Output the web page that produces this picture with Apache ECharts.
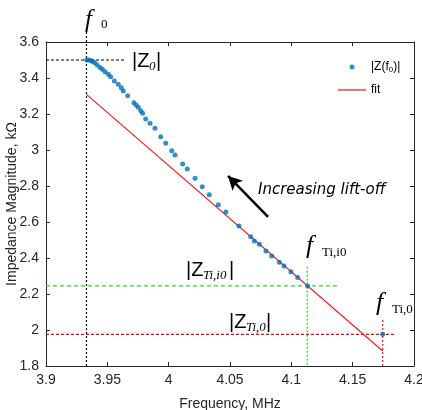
<!DOCTYPE html>
<html>
<head>
<meta charset="utf-8">
<script src="https://cdn.jsdelivr.net/npm/echarts@6/dist/echarts.min.js"></script>
<style>
  html, body { margin: 0; padding: 0; background: #fff; }
  #chart { width: 422px; height: 410px; }
</style>
</head>
<body>
<div id="chart"></div>
<script>
// |Z(f0)| measured points, frequency in MHz, magnitude in kOhm
const freq = [3.9332, 3.9351, 3.9367, 3.9381, 3.9397, 3.9418, 3.9440, 3.9459, 3.9481, 3.9508,
  3.9527, 3.9557, 3.9589, 3.9614, 3.9630, 3.9666, 3.9717, 3.9734, 3.9752, 3.9772,
  3.9788, 3.9813, 3.9848, 3.9889, 3.9935, 3.9976, 4.0025, 4.0052, 4.0114, 4.0152,
  4.0215, 4.0274, 4.0331, 4.0405, 4.0467, 4.0573, 4.0669, 4.0698, 4.0739, 4.0793,
  4.0840, 4.0902, 4.0940, 4.0997, 4.1052, 4.1133, 4.1745];
const mag = [3.500, 3.500, 3.496, 3.491, 3.485, 3.472, 3.459, 3.448, 3.435, 3.421,
  3.407, 3.383, 3.365, 3.346, 3.328, 3.302, 3.263, 3.250, 3.237, 3.218,
  3.204, 3.172, 3.148, 3.121, 3.074, 3.037, 2.996, 2.972, 2.922, 2.894,
  2.843, 2.796, 2.752, 2.696, 2.656, 2.578, 2.518, 2.494, 2.476, 2.439,
  2.411, 2.376, 2.356, 2.324, 2.291, 2.244, 1.976];

// linear fit
const fitFreq = [3.933, 4.1745];
const fitMag = [3.309, 1.883];

// guide lines: [x0, y0, x1, y1]
const guideZ0 = [3.9, 3.5, 3.964, 3.5];
const guideF0 = [3.933, 3.678, 3.933, 1.8];
const guideZTiI0 = [3.9, 2.245, 4.138, 2.245];
const guideFTiI0 = [4.113, 2.352, 4.113, 1.8];
const guideZTi0 = [3.9, 1.976, 4.1845, 1.976];
const guideFTi0 = [4.1745, 2.056, 4.1745, 1.8];

// lift-off arrow: tail then head
const arrowFreq = [4.081, 4.0484];
const arrowMag = [2.628, 2.856];

const xTickLabels = ['3.9', '3.95', '4', '4.05', '4.1', '4.15', '4.2'];
const yTickLabels = ['1.8', '2', '2.2', '2.4', '2.6', '2.8', '3', '3.2', '3.4', '3.6'];

const axisColor = '#262626';
const green = '#22dd22';
const red = '#ff0000';

const chart = echarts.init(document.getElementById('chart'));

function guide(g, color, dash) {
  return {
    type: 'line',
    data: [[g[0], g[1]], [g[2], g[3]]],
    showSymbol: false,
    symbol: 'none',
    silent: true,
    clip: false,
    lineStyle: { color: color, width: 1.2, type: dash },
    z: 1
  };
}

const serif = 'Liberation Serif';
const sans = 'Liberation Sans';

function txt(x, y, text, size, family, italic) {
  return {
    type: 'text', x: x, y: y, z: 100,
    style: {
      text: text, fontSize: size, fontFamily: family,
      fontStyle: italic ? 'italic' : 'normal',
      fill: '#000', verticalAlign: 'middle', align: 'left'
    }
  };
}

const option = {
  animation: false,
  grid: { left: 46, right: 8, top: 42, bottom: 44, show: false, outerBoundsMode: 'none' },
  legend: {
    orient: 'vertical',
    left: 333,
    top: 56,
    itemWidth: 28,
    itemHeight: 5,
    itemGap: 10,
    textStyle: {
      fontFamily: sans, fontSize: 12, color: '#000',
      rich: { sub: { fontFamily: sans, fontSize: 8, padding: [6, 0, 0, 0] } }
    },
    formatter: function (name) {
      return name === 'fit' ? 'fit' : '|Z(f{sub|0})|';
    },
    data: [
      { name: 'Zf0', icon: 'circle' },
      { name: 'fit', icon: 'path://M0,0L28,0L28,1.3L0,1.3Z' }
    ]
  },
  xAxis: [{
    type: 'value', min: 3.9, max: 4.2, interval: 0.05,
    name: 'Frequency, MHz', nameLocation: 'middle', nameGap: 31, nameMoveOverlap: false,
    nameTextStyle: { fontFamily: sans, fontSize: 14, color: axisColor },
    axisLine: { show: true, lineStyle: { color: axisColor, width: 1 } },
    axisTick: { show: true, inside: true, length: 4, lineStyle: { color: axisColor } },
    axisLabel: {
      fontFamily: sans, fontSize: 14, color: axisColor, margin: 7,
      formatter: function (v) { return xTickLabels[Math.round((v - 3.9) / 0.05)]; }
    },
    splitLine: { show: false }
  }, {
    type: 'value', min: 3.9, max: 4.2, interval: 0.05, position: 'top',
    axisLine: { show: true, lineStyle: { color: axisColor, width: 1 } },
    axisTick: { show: true, inside: true, length: 4, lineStyle: { color: axisColor } },
    axisLabel: { show: false },
    splitLine: { show: false }
  }],
  yAxis: [{
    type: 'value', min: 1.8, max: 3.6, interval: 0.2,
    name: 'Impedance Magnitude, k\u03A9', nameLocation: 'middle', nameGap: 27, nameMoveOverlap: false,
    nameTextStyle: { fontFamily: sans, fontSize: 14, color: axisColor },
    axisLine: { show: true, lineStyle: { color: axisColor, width: 1 } },
    axisTick: { show: true, inside: true, length: 4, lineStyle: { color: axisColor } },
    axisLabel: {
      fontFamily: sans, fontSize: 14, color: axisColor, margin: 7,
      formatter: function (v) { return yTickLabels[Math.round((v - 1.8) / 0.2)]; }
    },
    splitLine: { show: false }
  }, {
    type: 'value', min: 1.8, max: 3.6, interval: 0.2, position: 'right',
    axisLine: { show: true, lineStyle: { color: axisColor, width: 1 } },
    axisTick: { show: true, inside: true, length: 4, lineStyle: { color: axisColor } },
    axisLabel: { show: false },
    splitLine: { show: false }
  }],
  series: [
    guide(guideZ0, '#000', [3, 2]),
    guide(guideF0, '#000', [2, 2]),
    guide(guideZTiI0, green, [4, 3]),
    guide(guideFTiI0, green, [2, 2]),
    guide(guideZTi0, red, [3, 2]),
    guide(guideFTi0, red, [2, 2]),
    {
      name: 'fit',
      type: 'line',
      data: fitFreq.map((f, i) => [f, fitMag[i]]),
      symbol: 'none',
      lineStyle: { color: '#ee1c1c', width: 1.2 },
      itemStyle: { color: '#ee1c1c' },
      z: 3
    },
    {
      name: 'Zf0',
      type: 'scatter',
      data: freq.map((f, i) => [f, mag[i]]),
      symbolSize: 5,
      itemStyle: { color: '#0072bd' },
      z: 4
    },
    {
      type: 'line',
      data: [],
      silent: true,
      markLine: {
        silent: true,
        symbol: ['none', 'arrow'],
        symbolSize: [11, 14],
        label: { show: false },
        lineStyle: { color: '#000', width: 2.5, type: 'solid' },
        data: [[{ coord: [arrowFreq[0], arrowMag[0]] }, { coord: [arrowFreq[1], arrowMag[1]] }]]
      }
    }
  ],
  graphic: [
    // f0
    txt(85, 20, 'f', 25, serif, true),
    txt(101, 25, '0', 13, serif, false),
    // |Z0|
    txt(132, 61, '|Z', 20, sans, false),
    txt(149, 67, '0', 13, serif, true),
    txt(156, 61, '|', 20, sans, false),
    // |Z Ti,i0|
    txt(186, 270, '|Z', 20, sans, false),
    txt(203, 276, 'Ti,i0', 13, serif, true),
    txt(229, 270, '|', 20, sans, false),
    // |Z Ti,0|
    txt(229, 322, '|Z', 20, sans, false),
    txt(246, 328, 'Ti,0', 13, serif, true),
    txt(266, 322, '|', 20, sans, false),
    // f Ti,i0
    txt(306, 246, 'f', 26, serif, true),
    txt(322, 253, 'Ti,i0', 13, serif, false),
    // f Ti,0
    txt(376, 303, 'f', 26, serif, true),
    txt(392, 310, 'Ti,0', 13, serif, false),
    // arrow caption
    txt(258, 190, 'Increasing lift-off', 15, 'DejaVu Sans', true)
  ]
};

chart.setOption(option);
</script>
</body>
</html>
